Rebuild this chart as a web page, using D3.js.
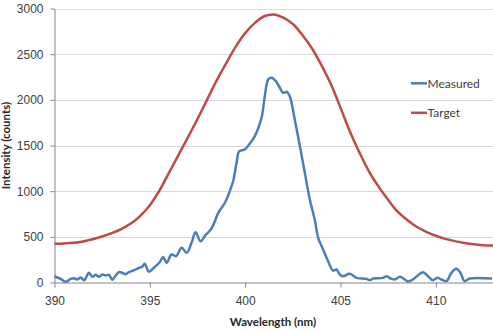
<!DOCTYPE html>
<html>
<head>
<meta charset="utf-8">
<script src="https://cdn.jsdelivr.net/npm/d3@7"></script>
<style>
  body { margin: 0; background: #fff; }
  svg { font-family: Lato, "Open Sans", sans-serif; }
  .grid line { stroke: #d9d9d9; }
  .axis path, .axis line { stroke: #868686; }
  .axis text { fill: #404040; font-size: 12px; }
</style>
</head>
<body>
<script>
// Target spectrum
var targetWl = [390, 390.5, 391, 391.5, 392, 392.5, 393, 393.5, 394, 394.5, 395, 395.5, 396, 396.5,
  397, 397.5, 398, 398.5, 399, 399.5, 400, 400.5, 401, 401.5, 402, 402.5, 403, 403.5, 404, 404.5,
  405, 405.5, 406, 406.5, 407, 407.5, 408, 408.5, 409, 409.5, 410, 410.5, 411, 411.5, 412, 412.5, 413];
var targetVal = [425, 428, 434, 450, 474, 503, 540, 585, 645, 730, 845, 1005, 1200, 1395,
  1590, 1790, 2000, 2210, 2400, 2580, 2730, 2840, 2915, 2935, 2900, 2830, 2710, 2565, 2380, 2170,
  1915, 1650, 1420, 1215, 1050, 905, 775, 685, 610, 555, 512, 478, 453, 433, 418, 409, 404];

// Measured spectrum
var measuredWl = [390.0, 390.32, 390.59, 390.85, 391.02, 391.19, 391.37, 391.55, 391.81, 391.98,
  392.16, 392.33, 392.51, 392.68, 392.86, 393.03, 393.21, 393.38, 393.55, 393.73, 393.9, 394.17,
  394.43, 394.6, 394.73, 394.95, 395.21, 395.53, 395.7, 395.88, 396.14, 396.37, 396.67, 396.93,
  397.19, 397.4, 397.66, 397.92, 398.2, 398.38, 398.59, 398.94, 399.16, 399.37, 399.55, 399.69,
  399.98, 400.21, 400.51, 400.86, 401.03, 401.21, 401.38, 401.61, 401.82, 401.99, 402.17, 402.34,
  402.6, 402.87, 403.13, 403.39, 403.65, 403.83, 404.09, 404.35, 404.61, 404.79, 404.96, 405.14,
  405.49, 405.84, 406.36, 406.54, 406.71, 407.23, 407.41, 407.67, 407.85, 408.11, 408.37, 408.54,
  408.8, 409.01, 409.33, 409.59, 409.85, 410.08, 410.29, 410.56, 410.82, 411.08, 411.29, 411.51,
  411.77, 412.95];
var measuredVal = [68, 40, 8, 40, 47, 33, 55, 25, 106, 62,
  84, 62, 88, 77, 84, 28, 77, 113, 106, 91, 113, 135,
  161, 172, 205, 118, 161, 225, 280, 216, 307, 288, 380, 325,
  435, 551, 452, 518, 580, 654, 763, 873, 982, 1109, 1310, 1438,
  1456, 1511, 1602, 1804, 2040, 2223, 2241, 2204, 2132, 2077, 2088, 2040,
  1785, 1493, 1201, 909, 690, 489, 361, 233, 130, 142, 88, 69,
  95, 51, 40, 25, 44, 51, 69, 40, 33, 62, 33, 11,
  33, 69, 113, 69, 25, 51, 33, 15, 106, 150, 106, 15,
  44, 44];

var xTicks = [390, 395, 400, 405, 410];
var yTicks = [0, 500, 1000, 1500, 2000, 2500, 3000];

var W = 493, H = 330;
var mLeft = 54.5, mTop = 8.5, mBottom = 282.5, mRight = 493;

var svg = d3.select('body').append('svg').attr('width', W).attr('height', H);

var x = d3.scaleLinear().domain([390, 413]).range([mLeft, mRight]);
var y = d3.scaleLinear().domain([0, 3000]).range([mBottom, mTop]);

// gridlines
svg.append('g').attr('class', 'grid')
  .selectAll('line').data(yTicks.filter(d => d > 0)).enter().append('line')
  .attr('x1', mLeft).attr('x2', mRight)
  .attr('y1', d => Math.round(y(d)) + 0.5).attr('y2', d => Math.round(y(d)) + 0.5);

var xAxis = d3.axisBottom(x).tickValues(xTicks).tickFormat(d3.format('d'))
  .tickSize(5).tickPadding(9).tickSizeOuter(0);
var gx = svg.append('g').attr('class', 'axis').attr('transform', 'translate(0,' + mBottom + ')').call(xAxis);

var yAxis = d3.axisLeft(y).tickValues(yTicks).tickFormat(d3.format('d'))
  .tickSize(4).tickPadding(7).tickSizeOuter(0);
var gy = svg.append('g').attr('class', 'axis').attr('transform', 'translate(' + mLeft + ',0)').call(yAxis);

var line = d3.line().x(d => x(d[0])).y(d => y(d[1])).curve(d3.curveCatmullRom.alpha(0.5));

svg.append('path')
  .datum(targetWl.map((w, i) => [w, targetVal[i]]))
  .attr('fill', 'none').attr('stroke', '#be4b48').attr('stroke-width', 2.5)
  .attr('stroke-linejoin', 'round').attr('d', line);

svg.append('path')
  .datum(measuredWl.map((w, i) => [w, measuredVal[i]]))
  .attr('fill', 'none').attr('stroke', '#4a7ebb').attr('stroke-width', 2.5)
  .attr('stroke-linejoin', 'round').attr('d', line);

// legend
var legend = [['Measured', '#4a7ebb'], ['Target', '#be4b48']];
var lg = svg.append('g').selectAll('g').data(legend).enter().append('g')
  .attr('transform', (d, i) => 'translate(411,' + (83.3 + i * 29.5) + ')');
lg.append('line').attr('x1', 0).attr('x2', 16).attr('stroke', d => d[1]).attr('stroke-width', 2.5);
lg.append('text').attr('x', 16.5).attr('dy', '0.35em').attr('fill', '#404040')
  .style('font-size', '12px').text(d => d[0]);

// axis titles
svg.append('text').attr('x', 273).attr('y', 326).attr('text-anchor', 'middle')
  .style('font-size', '11.5px').style('font-weight', 'bold').attr('fill', '#262626')
  .text('Wavelength (nm)');
svg.append('text').attr('transform', 'translate(9.5,' + ((mTop + mBottom) / 2) + ') rotate(-90)')
  .attr('text-anchor', 'middle').style('font-size', '11.5px').style('font-weight', 'bold')
  .attr('fill', '#262626').text('Intensity (counts)');
</script>
</body>
</html>
